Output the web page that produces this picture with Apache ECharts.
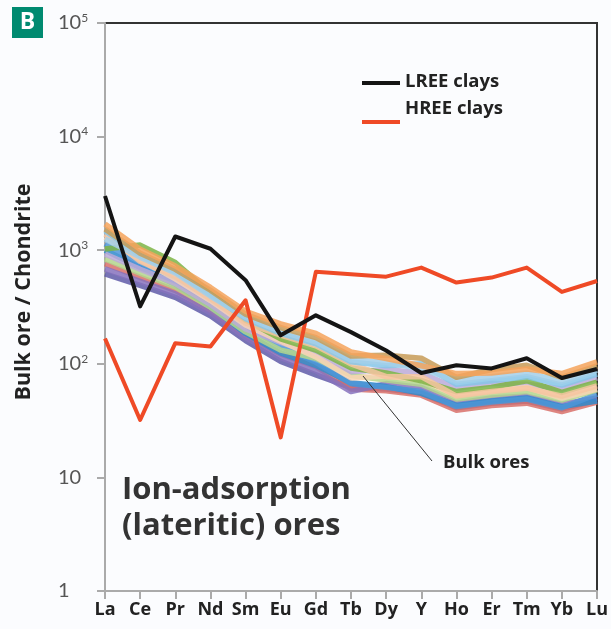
<!DOCTYPE html>
<html>
<head>
<meta charset="utf-8">
<script src="https://cdn.jsdelivr.net/npm/echarts@6/dist/echarts.min.js"></script>
<style>
  html, body { margin: 0; padding: 0; background: #fbfcfe; }
  #chart { width: 611px; height: 629px; }
</style>
</head>
<body>
<div id="chart"></div>
<script>
// Rare earth elements (chondrite-normalised), plotted left to right
const elements = ['La', 'Ce', 'Pr', 'Nd', 'Sm', 'Eu', 'Gd', 'Tb', 'Dy', 'Y', 'Ho', 'Er', 'Tm', 'Yb', 'Lu'];

// Clay reference patterns
const lreeClays = [3000, 320, 1320, 1030, 545, 178, 267, 190, 131, 83, 97, 91, 112, 75, 90];
const hreeClays = [167, 32, 152, 142, 362, 22.5, 645, 615, 585, 703, 519, 574, 703, 429, 536];

// Individual bulk ore samples
const bulkOre01 = [1700, 1020, 726, 470, 290, 225, 185, 127, 111, 96, 82, 83, 90, 82, 104];
const bulkOre02 = [1535, 942, 678, 444, 273, 208, 170, 117, 119, 112, 76, 89, 97, 76, 96];
const bulkOre03 = [1026, 1109, 780, 419, 243, 166, 132, 92, 83, 71, 57, 62, 71, 56, 69];
const bulkOre04 = [1256, 869, 631, 395, 257, 193, 156, 108, 103, 90, 71, 77, 83, 70, 88];
const bulkOre05 = [1135, 738, 548, 353, 215, 142, 103, 67, 62, 57, 42, 46, 49, 41, 54];
const bulkOre06 = [1387, 800, 588, 373, 229, 179, 144, 100, 77, 77, 52, 57, 61, 52, 64];
const bulkOre07 = [927, 679, 510, 333, 203, 154, 122, 85, 89, 83, 61, 67, 66, 60, 75];
const bulkOre08 = [1480, 900, 650, 405, 250, 185, 150, 104, 96, 100, 66, 71, 77, 65, 81];
const bulkOre09 = [685, 532, 413, 281, 170, 113, 87, 57, 67, 62, 45, 50, 52, 44, 50];
const bulkOre10 = [619, 490, 385, 265, 160, 105, 80, 62, 60, 55, 41, 45, 47, 40, 48];
const bulkOre11 = [759, 577, 443, 297, 180, 122, 95, 60, 58, 53, 39, 43, 45, 38, 46];
const bulkOre12 = [838, 627, 475, 315, 191, 132, 112, 79, 72, 66, 49, 53, 57, 48, 59];
const bulkOre13 = [1000, 700, 500, 320, 185, 125, 97, 68, 63, 55, 43, 47, 50, 42, 47];
const bulkOre14 = [1300, 820, 560, 360, 220, 158, 115, 75, 78, 72, 53, 58, 62, 50, 60];

const bulkOres = [
  { data: bulkOre10, color: '#5f5aa8' },
  { data: bulkOre11, color: '#d8706a' },
  { data: bulkOre09, color: '#8672bd' },
  { data: bulkOre13, color: '#2f8ccc' },
  { data: bulkOre05, color: '#4d95d6' },
  { data: bulkOre12, color: '#b3d68c' },
  { data: bulkOre07, color: '#bcaad8' },
  { data: bulkOre14, color: '#f9d3b4' },
  { data: bulkOre03, color: '#7cb445' },
  { data: bulkOre06, color: '#f6c4a0' },
  { data: bulkOre08, color: '#86c6e8' },
  { data: bulkOre04, color: '#a3cfe9' },
  { data: bulkOre02, color: '#c79b57' },
  { data: bulkOre01, color: '#f4a35c' }
];

const chart = echarts.init(document.getElementById('chart'), null, { renderer: 'canvas' });

const series = bulkOres.map((s, i) => ({
  name: 'bulk' + i,
  type: 'line',
  data: s.data,
  symbol: 'none',
  silent: true,
  z: 2,
  lineStyle: { color: s.color, width: 5.5, opacity: 0.85, join: 'round' }
}));

series.push({
  name: 'HREE clays',
  type: 'line',
  data: hreeClays,
  symbol: 'none',
  z: 4,
  lineStyle: { color: '#ef4a26', width: 4, join: 'round' }
});
series.push({
  name: 'LREE clays',
  type: 'line',
  data: lreeClays,
  symbol: 'none',
  z: 5,
  lineStyle: { color: '#141414', width: 4, join: 'round' }
});

const textFont = '"Open Sans", Lato, sans-serif';
const tickFont = 'Lato, "Open Sans", sans-serif';

chart.setOption({
  animation: false,
  backgroundColor: '#fbfcfe',
  grid: {
    left: 105, right: 11, top: 23, bottom: 38,
    show: true, borderColor: '#333', borderWidth: 2, backgroundColor: 'transparent'
  },
  xAxis: {
    type: 'category',
    data: elements,
    boundaryGap: false,
    axisLine: { lineStyle: { color: '#aaaaaa', width: 2 } },
    axisTick: { show: true, length: 8, lineStyle: { color: '#aaaaaa', width: 2 } },
    axisLabel: {
      interval: 0, margin: 10, color: '#222', fontWeight: 'bold',
      fontSize: 18, fontFamily: textFont
    },
    splitLine: { show: false }
  },
  yAxis: {
    type: 'log',
    logBase: 10,
    min: 1,
    max: 100000,
    axisLine: { show: true, lineStyle: { color: '#aaaaaa', width: 2 } },
    axisTick: { show: true, length: 8, lineStyle: { color: '#aaaaaa', width: 2 } },
    splitLine: { show: false },
    axisLabel: {
      align: 'left',
      margin: 47,
      color: '#555',
      fontFamily: tickFont,
      fontSize: 20,
      formatter: function (v) {
        const e = Math.round(Math.log10(v));
        if (e < 2) return '{b|' + Math.round(v) + '}';
        return '{b|10}{s|' + e + '}';
      },
      rich: {
        b: { fontSize: 20, color: '#555', fontFamily: tickFont, lineHeight: 22 },
        s: { fontSize: 12, color: '#555', fontFamily: tickFont, verticalAlign: 'top', lineHeight: 22 }
      }
    }
  },
  series: series,
  graphic: [
    // panel tag
    { type: 'rect', left: 12, top: 7, shape: { width: 31, height: 31 }, style: { fill: '#008a70' } },
    { type: 'text', x: 27.5, y: 22.5, style: { text: 'B', fill: '#fff', font: 'bold 23px ' + textFont, align: 'center', verticalAlign: 'middle' } },
    // axis title
    {
      type: 'text', x: 24, y: 292, rotation: Math.PI / 2,
      style: {
        text: 'Bulk ore / Chondrite', fill: '#222', font: 'bold 21.5px ' + textFont,
        align: 'center', verticalAlign: 'middle'
      }
    },
    // key
    { type: 'line', shape: { x1: 362, y1: 83, x2: 400, y2: 83 }, style: { stroke: '#141414', lineWidth: 4 } },
    { type: 'text', x: 405, y: 82, style: { text: 'LREE clays', fill: '#222', font: 'bold 18.5px ' + textFont, verticalAlign: 'middle' } },
    { type: 'text', x: 405, y: 109, style: { text: 'HREE clays', fill: '#222', font: 'bold 18.5px ' + textFont, verticalAlign: 'middle' } },
    { type: 'line', shape: { x1: 362, y1: 122, x2: 400, y2: 122 }, style: { stroke: '#ef4a26', lineWidth: 4 } },
    // bulk ores callout
    { type: 'line', z: 10, shape: { x1: 363, y1: 376, x2: 432, y2: 461 }, style: { stroke: '#333', lineWidth: 1 } },
    { type: 'text', x: 443, y: 463, style: { text: 'Bulk ores', fill: '#222', font: 'bold 18.5px ' + textFont, verticalAlign: 'middle' } },
    // deposit type caption
    { type: 'text', x: 122, y: 490, style: { text: 'Ion-adsorption', fill: '#333', font: 'bold 31px ' + textFont, verticalAlign: 'middle' } },
    { type: 'text', x: 122, y: 526, style: { text: '(lateritic) ores', fill: '#333', font: 'bold 31px ' + textFont, verticalAlign: 'middle' } }
  ]
});
</script>
</body>
</html>
